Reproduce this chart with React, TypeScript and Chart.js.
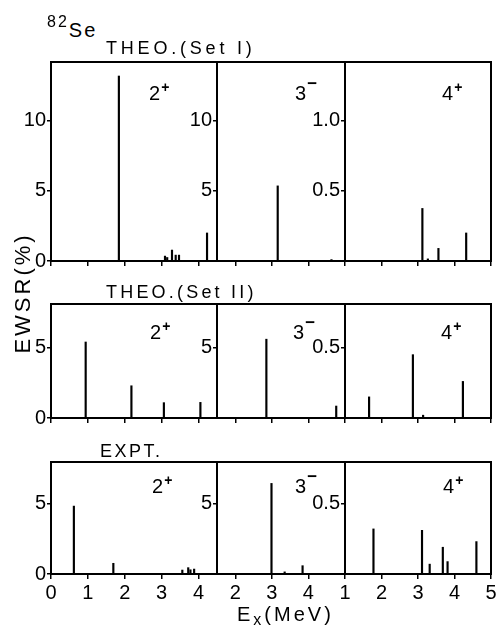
import React, { useEffect, useRef } from 'react';
import { Chart, registerables } from 'chart.js';

Chart.register(...registerables);

// ---------- data (Ex in MeV, EWSR in %) ----------
// THEO. (Set I)
const SET1_2P_EX = [1.84, 3.09, 3.15, 3.28, 3.38, 3.47, 4.23];
const SET1_2P_EWSR = [13.2, 0.35, 0.25, 0.78, 0.42, 0.42, 2.0];
const SET1_3M_EX = [3.16, 4.63];
const SET1_3M_EWSR = [5.36, 0.1];
const SET1_4P_EX = [3.12, 3.27, 3.56, 4.32];
const SET1_4P_EWSR = [0.375, 0.015, 0.09, 0.2];

// THEO. (Set II)
const SET2_2P_EX = [0.94, 2.18, 3.06, 4.05];
const SET2_2P_EWSR = [5.4, 2.29, 1.09, 1.11];
const SET2_3M_EX = [2.85, 4.76];
const SET2_3M_EWSR = [5.6, 0.85];
const SET2_4P_EX = [1.66, 2.86, 3.14, 4.23];
const SET2_4P_EWSR = [0.15, 0.45, 0.02, 0.26];

// EXPT.
const EXPT_2P_EX = [0.62, 1.69, 3.56, 3.72, 3.78, 3.88];
const EXPT_2P_EWSR = [4.82, 0.76, 0.28, 0.45, 0.3, 0.35];
const EXPT_3M_EX = [2.99, 3.35, 3.84];
const EXPT_3M_EWSR = [6.43, 0.15, 0.59];
const EXPT_4P_EX = [1.78, 3.11, 3.32, 3.68, 3.81, 4.6];
const EXPT_4P_EWSR = [0.32, 0.31, 0.07, 0.19, 0.088, 0.23];

// axes
const COL_X_MIN = [0, 1.5, 1];
const COL_X_MAX = [4.5, 5, 5];
const COL_X_TICKS = [[0, 1, 2, 3, 4], [2, 3, 4], [1, 2, 3, 4, 5]];
const ROW_Y_MAX = [14.2, 8.1, 7.95];
const ROW_Y_MAX_4P = [1.42, 0.81, 0.795];
const ROW_Y_TICKS = [[0, 5, 10], [0, 5], [0, 5]];
const ROW_Y_TICKS_3M = [[5, 10], [5], [5]];
const ROW_Y_TICKS_4P = [[0.5, 1.0], [0.5], [0.5]];

const ROW_TITLES = ['THEO.(Set I)', 'THEO.(Set II)', 'EXPT.'];
const X_TITLE = 'MeV';
const Y_TITLE = 'EWSR(%)';

// ---------- layout ----------
const FONT = "'Liberation Sans', Arial, sans-serif";
const COL_EDGES = [51, 217, 345, 491];
const ROW_EDGES = [
  [62, 261],
  [304, 418],
  [462, 574],
];
const PAD_L = 46;
const PAD_R = 14;
const PAD_T = 18;
const PAD_B = 36;

const framePlugin = {
  id: 'frame',
  afterDraw(chart: any) {
    const { ctx, chartArea: a } = chart;
    ctx.save();
    ctx.strokeStyle = '#000';
    ctx.lineWidth = 2;
    ctx.strokeRect(a.left, a.top, a.right - a.left, a.bottom - a.top);
    ctx.restore();
  },
};

type PanelProps = {
  row: number;
  col: number;
  ex: number[];
  ewsr: number[];
  yMax: number;
  yTicks: number[];
  decimals: number;
};

function Panel({ row, col, ex, ewsr, yMax, yTicks, decimals }: PanelProps) {
  const ref = useRef<HTMLCanvasElement>(null);
  const left = COL_EDGES[col];
  const right = COL_EDGES[col + 1];
  const [top, bottom] = ROW_EDGES[row];
  const w = right - left + PAD_L + PAD_R;
  const h = bottom - top + PAD_T + PAD_B;
  const showX = row === 2;

  useEffect(() => {
    const canvas = ref.current;
    if (!canvas) return;
    const chart = new Chart(canvas, {
      type: 'bar',
      data: {
        datasets: [
          {
            data: ex.map((e, i) => ({ x: e, y: ewsr[i] })),
            backgroundColor: '#000',
            borderWidth: 0,
            barThickness: 1.5,
          },
        ],
      },
      options: {
        animation: false,
        responsive: false,
        maintainAspectRatio: false,
        events: [],
        layout: { padding: { left: 0, right: PAD_R, top: PAD_T, bottom: 0 } },
        plugins: {
          legend: { display: false },
          tooltip: { enabled: false },
        },
        scales: {
          x: {
            type: 'linear',
            min: COL_X_MIN[col],
            max: COL_X_MAX[col],
            offset: false,
            border: { display: false },
            grid: {
              display: true,
              offset: false,
              drawOnChartArea: false,
              drawTicks: true,
              tickLength: 5,
              lineWidth: 1.5,
              color: '#000',
            },
            ticks: {
              display: showX,
              color: '#000',
              font: { family: FONT, size: 20 },
              padding: 2,
              autoSkip: false,
              maxRotation: 0,
              callback: (v: any) => String(v),
            },
            afterBuildTicks: (s: any) => {
              s.ticks = COL_X_TICKS[col].map((v) => ({ value: v }));
            },
            afterFit: (s: any) => {
              s.height = PAD_B;
            },
          },
          y: {
            type: 'linear',
            min: 0,
            max: yMax,
            border: { display: false },
            grid: {
              display: true,
              drawOnChartArea: false,
              drawTicks: true,
              tickLength: 4,
              lineWidth: 1.5,
              color: '#000',
            },
            ticks: {
              color: '#000',
              font: { family: FONT, size: 20 },
              padding: 1,
              autoSkip: false,
              callback: (v: any) => Number(v).toFixed(decimals),
            },
            afterBuildTicks: (s: any) => {
              s.ticks = yTicks.map((v) => ({ value: v }));
            },
            afterFit: (s: any) => {
              s.width = PAD_L;
            },
          },
        },
      },
      plugins: [framePlugin],
    } as any);
    return () => chart.destroy();
  }, []);

  return (
    <canvas
      ref={ref}
      width={w}
      height={h}
      style={{ position: 'absolute', left: left - PAD_L, top: top - PAD_T, width: w, height: h }}
    />
  );
}

const txt = (extra: React.CSSProperties): React.CSSProperties => ({
  position: 'absolute',
  fontFamily: FONT,
  lineHeight: 1,
  whiteSpace: 'nowrap',
  color: '#000',
  ...extra,
});

function Jpi({ left, top, n, sup }: { left: number; top: number; n: string; sup: string }) {
  const isMinus = sup === '−';
  return (
    <div style={txt({ left, top, fontSize: 20 })}>
      {n}
      <span
        style={{
          fontSize: isMinus ? 17 : 14,
          fontWeight: 'bold',
          position: 'relative',
          top: isMinus ? -11 : -8,
          marginLeft: 1,
        }}
      >
        {sup}
      </span>
    </div>
  );
}

export default function App() {
  const panels: PanelProps[] = [
    { row: 0, col: 0, ex: SET1_2P_EX, ewsr: SET1_2P_EWSR, yMax: ROW_Y_MAX[0], yTicks: ROW_Y_TICKS[0], decimals: 0 },
    { row: 0, col: 1, ex: SET1_3M_EX, ewsr: SET1_3M_EWSR, yMax: ROW_Y_MAX[0], yTicks: ROW_Y_TICKS_3M[0], decimals: 0 },
    { row: 0, col: 2, ex: SET1_4P_EX, ewsr: SET1_4P_EWSR, yMax: ROW_Y_MAX_4P[0], yTicks: ROW_Y_TICKS_4P[0], decimals: 1 },
    { row: 1, col: 0, ex: SET2_2P_EX, ewsr: SET2_2P_EWSR, yMax: ROW_Y_MAX[1], yTicks: ROW_Y_TICKS[1], decimals: 0 },
    { row: 1, col: 1, ex: SET2_3M_EX, ewsr: SET2_3M_EWSR, yMax: ROW_Y_MAX[1], yTicks: ROW_Y_TICKS_3M[1], decimals: 0 },
    { row: 1, col: 2, ex: SET2_4P_EX, ewsr: SET2_4P_EWSR, yMax: ROW_Y_MAX_4P[1], yTicks: ROW_Y_TICKS_4P[1], decimals: 1 },
    { row: 2, col: 0, ex: EXPT_2P_EX, ewsr: EXPT_2P_EWSR, yMax: ROW_Y_MAX[2], yTicks: ROW_Y_TICKS[2], decimals: 0 },
    { row: 2, col: 1, ex: EXPT_3M_EX, ewsr: EXPT_3M_EWSR, yMax: ROW_Y_MAX[2], yTicks: ROW_Y_TICKS_3M[2], decimals: 0 },
    { row: 2, col: 2, ex: EXPT_4P_EX, ewsr: EXPT_4P_EWSR, yMax: ROW_Y_MAX_4P[2], yTicks: ROW_Y_TICKS_4P[2], decimals: 1 },
  ];
  const jpiTops = [83, 322, 476];

  return (
    <div style={{ position: 'absolute', left: 0, top: 0, width: 496, height: 627, background: '#fff', overflow: 'hidden' }}>
      {panels.map((p) => (
        <Panel key={`${p.row}-${p.col}`} {...p} />
      ))}

      {/* nucleus */}
      <div style={txt({ left: 47, top: 20, fontSize: 20, letterSpacing: 2 })}>
        <span style={{ fontSize: 16, position: 'relative', top: -10 }}>82</span>Se
      </div>

      {/* row titles */}
      <div style={txt({ left: 106, top: 39, fontSize: 18, letterSpacing: 3.8 })}>{ROW_TITLES[0]}</div>
      <div style={txt({ left: 106, top: 283, fontSize: 18, letterSpacing: 3.2 })}>{ROW_TITLES[1]}</div>
      <div style={txt({ left: 100, top: 442, fontSize: 18, letterSpacing: 2.5 })}>{ROW_TITLES[2]}</div>

      {/* multipolarity labels */}
      {jpiTops.map((t, i) => (
        <React.Fragment key={i}>
          <Jpi left={[149, 150, 152][i]} top={t} n="2" sup="+" />
          <Jpi left={[295, 293, 295][i]} top={t} n="3" sup="−" />
          <Jpi left={[442, 441, 443][i]} top={t} n="4" sup="+" />
        </React.Fragment>
      ))}

      {/* y title */}
      <div
        style={txt({
          left: 23 - 70,
          top: 293 - 11,
          width: 140,
          height: 22,
          fontSize: 22,
          letterSpacing: 3,
          textAlign: 'center',
          transform: 'rotate(-90deg)',
          transformOrigin: '50% 50%',
        })}
      >
        {Y_TITLE}
      </div>

      {/* x title */}
      <div style={txt({ left: 237, top: 604, fontSize: 20, letterSpacing: 3 })}>
        E<span style={{ fontSize: 16, position: 'relative', top: 4 }}>x</span>({X_TITLE})
      </div>
    </div>
  );
}
